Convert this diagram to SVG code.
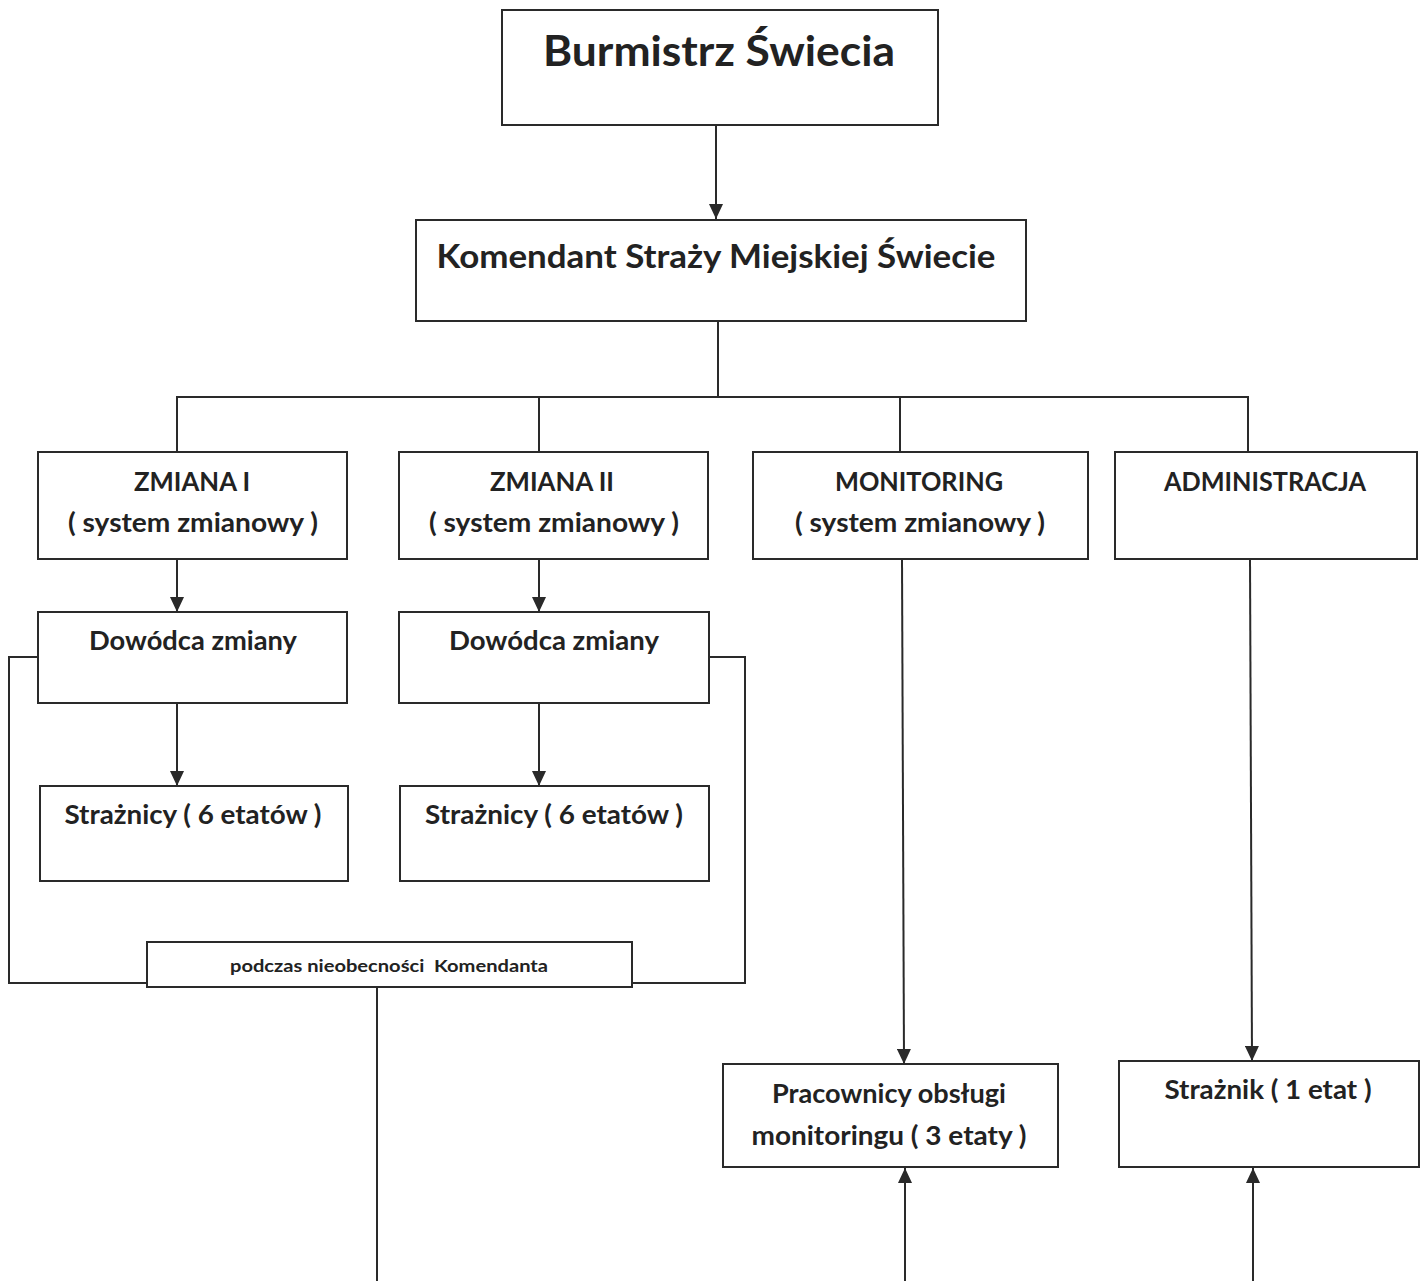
<svg xmlns="http://www.w3.org/2000/svg" width="1421" height="1281" viewBox="0 0 1421 1281">
<defs>
<style>
.box{fill:#fff;stroke:#2a2a2a;stroke-width:2}
.ln{fill:none;stroke:#2a2a2a;stroke-width:2}
text{font-family:Lato,"Open Sans","Liberation Sans",sans-serif;font-weight:bold;fill:#222;text-anchor:middle}
.t1{font-size:42px}
.t2{font-size:33px}
.t3{font-size:26px}
.t4{font-size:17px}
</style>
<marker id="ah" viewBox="0 0 15 14" refX="15" refY="7" markerWidth="15" markerHeight="14" markerUnits="userSpaceOnUse" orient="auto">
<path d="M0,0 L15,7 L0,14 Z" fill="#2a2a2a"/>
</marker>
</defs>
<rect width="1421" height="1281" fill="#fff"/>
<g id="connectors">
<line class="ln" x1="716" y1="125" x2="716" y2="219" marker-end="url(#ah)"/>
<polyline class="ln" points="718,321 718,397"/>
<polyline class="ln" points="177,452 177,397 1248,397 1248,451"/>
<line class="ln" x1="539" y1="397" x2="539" y2="452"/>
<line class="ln" x1="900" y1="397" x2="900" y2="452"/>
<line class="ln" x1="177" y1="559" x2="177" y2="612" marker-end="url(#ah)"/>
<line class="ln" x1="539" y1="559" x2="539" y2="612" marker-end="url(#ah)"/>
<line class="ln" x1="177" y1="703" x2="177" y2="786" marker-end="url(#ah)"/>
<line class="ln" x1="539" y1="703" x2="539" y2="786" marker-end="url(#ah)"/>
<polyline class="ln" points="38,657 9,657 9,983 147,983"/>
<polyline class="ln" points="709,657 745,657 745,983 632,983"/>
<line class="ln" x1="377" y1="987" x2="377" y2="1281"/>
<line class="ln" x1="902" y1="559" x2="904" y2="1064" marker-end="url(#ah)"/>
<line class="ln" x1="1250" y1="559" x2="1252" y2="1061" marker-end="url(#ah)"/>
<line class="ln" x1="905" y1="1281" x2="905" y2="1168" marker-end="url(#ah)"/>
<line class="ln" x1="1253" y1="1281" x2="1253" y2="1168" marker-end="url(#ah)"/>
</g>
<g id="burmistrz">
<rect class="box" x="502" y="10" width="436" height="115"/>
<text class="t1" x="719" y="66" textLength="352" lengthAdjust="spacingAndGlyphs">Burmistrz Świecia</text>
</g>
<g id="komendant">
<rect class="box" x="416" y="220" width="610" height="101"/>
<text class="t2" x="716" y="268" textLength="559" lengthAdjust="spacingAndGlyphs">Komendant Straży Miejskiej Świecie</text>
</g>
<g id="zmiana1">
<rect class="box" x="38" y="452" width="309" height="107"/>
<text class="t3" x="192" y="491" textLength="116" lengthAdjust="spacingAndGlyphs">ZMIANA I</text>
<text class="t3" x="193" y="532" textLength="250" lengthAdjust="spacingAndGlyphs">( system zmianowy )</text>
</g>
<g id="zmiana2">
<rect class="box" x="399" y="452" width="309" height="107"/>
<text class="t3" x="552" y="491" textLength="124" lengthAdjust="spacingAndGlyphs">ZMIANA II</text>
<text class="t3" x="554" y="532" textLength="250" lengthAdjust="spacingAndGlyphs">( system zmianowy )</text>
</g>
<g id="monitoring">
<rect class="box" x="753" y="452" width="335" height="107"/>
<text class="t3" x="919" y="491" textLength="168" lengthAdjust="spacingAndGlyphs">MONITORING</text>
<text class="t3" x="920" y="532" textLength="250" lengthAdjust="spacingAndGlyphs">( system zmianowy )</text>
</g>
<g id="administracja">
<rect class="box" x="1115" y="452" width="302" height="107"/>
<text class="t3" x="1265" y="491" textLength="202" lengthAdjust="spacingAndGlyphs">ADMINISTRACJA</text>
</g>
<g id="dowodca1">
<rect class="box" x="38" y="612" width="309" height="91"/>
<text class="t3" x="193" y="650" textLength="208" lengthAdjust="spacingAndGlyphs">Dowódca zmiany</text>
</g>
<g id="dowodca2">
<rect class="box" x="399" y="612" width="310" height="91"/>
<text class="t3" x="554" y="650" textLength="210" lengthAdjust="spacingAndGlyphs">Dowódca zmiany</text>
</g>
<g id="straznicy1">
<rect class="box" x="40" y="786" width="308" height="95"/>
<text class="t3" x="193" y="824" textLength="257" lengthAdjust="spacingAndGlyphs">Strażnicy ( 6 etatów )</text>
</g>
<g id="straznicy2">
<rect class="box" x="400" y="786" width="309" height="95"/>
<text class="t3" x="554" y="824" textLength="258" lengthAdjust="spacingAndGlyphs">Strażnicy ( 6 etatów )</text>
</g>
<g id="nieobecnosc">
<rect class="box" x="147" y="942" width="485" height="45"/>
<text class="t4" x="389" y="972" textLength="318" lengthAdjust="spacingAndGlyphs" xml:space="preserve">podczas nieobecności  Komendanta</text>
</g>
<g id="pracownicy">
<rect class="box" x="723" y="1064" width="335" height="103"/>
<text class="t3" x="889" y="1103" textLength="234" lengthAdjust="spacingAndGlyphs">Pracownicy obsługi</text>
<text class="t3" x="889" y="1145" textLength="275" lengthAdjust="spacingAndGlyphs">monitoringu ( 3 etaty )</text>
</g>
<g id="straznik">
<rect class="box" x="1119" y="1061" width="300" height="106"/>
<text class="t3" x="1268" y="1099" textLength="207" lengthAdjust="spacingAndGlyphs">Strażnik ( 1 etat )</text>
</g>
</svg>
